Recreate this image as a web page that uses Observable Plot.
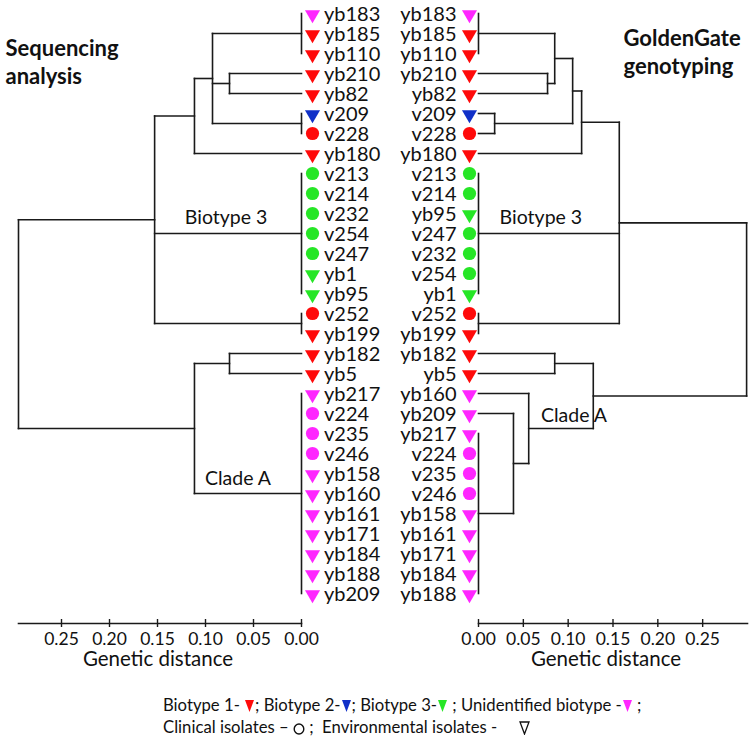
<!DOCTYPE html>
<html><head><meta charset="utf-8">
<script src="https://cdn.jsdelivr.net/npm/d3@7"></script>
<script src="https://cdn.jsdelivr.net/npm/@observablehq/plot@0.6"></script>
<style>
body{margin:0;background:#fff;font-family:Lato,sans-serif;}
#wrap{width:752px;}
#row{display:flex;}
#legend{padding:14px 0 0 163px;font-size:16.7px;color:#111;}
#legend div{height:22px;line-height:22px;white-space:nowrap;}
#legend svg{vertical-align:-2px;}
</style></head><body>
<div id="wrap"><div id="row"></div><div id="legend"></div></div>
<script>
// ---- data ----
const isolates = ["yb183","yb185","yb110","yb210","yb82","v209","v228","yb180","v213","v214","v232","v254","v247","yb1","yb95","v252","yb199","yb182","yb5","yb217","v224","v235","v246","yb158","yb160","yb161","yb171","yb184","yb188","yb209"];
const biotype  = ["U","1","1","1","1","2","1","1","3","3","3","3","3","3","3","1","1","1","1","U","U","U","U","U","U","U","U","U","U","U"];
const source   = ["E","E","E","E","E","E","C","E","C","C","C","C","C","E","E","C","E","E","E","E","C","C","C","E","E","E","E","E","E","E"];
const biotypeColors = {"1":"#ff0a0a","2":"#1030c8","3":"#26e626","U":"#ff26ff"};

// trees: [height, ...children]; a list of names = polytomy at distance 0
const leftTree = [0.2948,
  [0.153,
    [0.1115,
      [0.0927, ["yb183","yb185","yb110"], [0.075,"yb210","yb82"], ["v209","v228"]],
      "yb180"],
    ["v213","v214","v232","v254","v247","yb1","yb95"],
    ["v252","yb199"]],
  [0.1115,
    [0.075,"yb182","yb5"],
    ["yb217","v224","v235","v246","yb158","yb160","yb161","yb171","yb184","yb188","yb209"]]];

const rightTree = [0.299,
  [0.157,
    [0.115,
      [0.105,
        [0.085, ["yb183","yb185","yb110"], [0.077,"yb210","yb82"]],
        [0.018,"v209","v228"]],
      "yb180"],
    ["v213","v214","yb95","v247","v232","v254","yb1"],
    ["v252","yb199"]],
  [0.128,
    [0.085,"yb182","yb5"],
    [0.056,"yb160",[0.039,"yb209",["yb217","v224","v235","v246","yb158","yb161","yb171","yb184","yb188"]]]]];

const cladeNames = ["Biotype 3","Clade A"];
const leftCladeGroups = ["v213","yb217"];
const rightCladeGroups = ["v213","yb160"];
const distTicks = [0,0.05,0.10,0.15,0.20,0.25];
const titles = ["Sequencing\nanalysis","GoldenGate\ngenotyping"];
const axisTitle = "Genetic distance";
const legendBiotypes = [["Biotype 1- ","1","; "],["Biotype 2-","2","; "],["Biotype 3-","3"," ; "],["Unidentified biotype -","U"," ;"]];

// ---- layout ----
function layout(tree){
  const segs=[], leaves=[];
  let row=0;
  function walk(n){
    if (typeof n === "string"){ leaves.push({name:n,row}); return {x:0,y:row++,first:n}; }
    if (typeof n[0] === "string"){
      const y0=row; n.forEach(s=>leaves.push({name:s,row:row++})); const y1=row-1;
      segs.push({x1:0,x2:0,y1:y0,y2:y1});
      return {x:0,y:(y0+y1)/2,first:n[0]};
    }
    const h=n[0]; const kids=n.slice(1).map(walk);
    kids.forEach(k=>segs.push({x1:k.x,x2:h,y1:k.y,y2:k.y,first:k.first,h:true}));
    const ys=kids.map(k=>k.y); const lo=Math.min(...ys), hi=Math.max(...ys);
    segs.push({x1:h,x2:h,y1:lo,y2:hi});
    return {x:h,y:(lo+hi)/2,first:kids[0].first};
  }
  walk(tree);
  leaves.forEach(l=>{const i=isolates.indexOf(l.name); l.bio=biotype[i]; l.src=source[i];});
  return {segs,leaves};
}

function tree(treeData, side){
  const {segs,leaves} = layout(treeData);
  const left = side==="left";
  const groups = left ? leftCladeGroups : rightCladeGroups;
  const labels = cladeNames.map((t,i)=>{
    const s = segs.filter(s=>s.h && s.first===groups[i]).pop();
    return {text:t, x:(s.x1+s.x2)/2, y:s.y1};
  });
  const labelDx = left ? [-2,-10] : [-8,13];
  const labelDy = left ? [-16,-15] : [-16,-13];
  const tri = leaves.filter(d=>d.src==="E"), circ = leaves.filter(d=>d.src==="C");
  const sym = left ? 11 : -9;
  return Plot.plot({
    width:376, height:680,
    marginTop:13, marginBottom:57,
    marginLeft: left?18:102, marginRight: left?75:5,
    x:{domain: left?[0.2948,0]:[0,0.3]},
    y:{domain:[30.5,0], axis:null},
    style:{fontFamily:"Lato", background:"transparent", overflow:"visible", color:"#111"},
    marks:[
      Plot.link(segs,{x1:"x1",x2:"x2",y1:"y1",y2:"y2",stroke:"#1a1a1a",strokeWidth:1.6,strokeLinecap:"square"}),
      Plot.dot(tri,{x:()=>0,y:"row",dx:sym,dy:1,symbol:"triangle",r:5.6,rotate:180,fill:d=>biotypeColors[d.bio],stroke:null}),
      Plot.dot(circ,{x:()=>0,y:"row",dx:sym,symbol:"circle",r:6.6,fill:d=>biotypeColors[d.bio],stroke:null}),
      Plot.text(leaves,{x:()=>0,y:"row",text:"name",dx:left?22.5:-22,dy:1.5,textAnchor:left?"start":"end",fontSize:20,fill:"#111"}),
      ...labels.map((l,i)=>Plot.text([l],{x:"x",y:"y",text:"text",dx:labelDx[i],dy:labelDy[i],fontSize:19.5,fill:"#111"})),
      Plot.frame({anchor:"bottom",stroke:"#1a1a1a",strokeWidth:1.6}),
      Plot.ruleX(distTicks,{x:d=>d,y1:30.3,y2:30.7,stroke:"#1a1a1a",strokeWidth:1.4}),
      Plot.axisX(distTicks,{anchor:"bottom",tickSize:0,tickPadding:9,tickFormat:d=>d.toFixed(2),fontSize:17.5,label:null,fill:"#111"}),
      Plot.text([axisTitle],{frameAnchor:"bottom",dy:42,dx:left?-2:-7,fontSize:20.5,fill:"#111"}),
      Plot.text([left?titles[0]:titles[1]],{frameAnchor:"top-left",textAnchor:"start",lineAnchor:"top",
        dx:left?-13:145,dy:left?23:13,fontSize:22,fontWeight:"bold",lineHeight:1.25,fill:"#111"})
    ]
  });
}

const row = document.getElementById("row");
row.appendChild(tree(leftTree,"left"));
row.appendChild(tree(rightTree,"right"));

// ---- legend ----
const triSvg = (fill, stroke) => `<svg width="11" height="14" viewBox="0 0 11 14"><path d="M1,1 L10,1 L5.5,13 Z" fill="${fill}" stroke="${stroke||"none"}" stroke-width="1.3"/></svg>`;
const circSvg = `<svg width="12" height="14" viewBox="0 0 12 14"><ellipse cx="6" cy="8" rx="4.8" ry="5" fill="none" stroke="#111" stroke-width="1.4"/></svg>`;
const lg = document.getElementById("legend");
const l1 = legendBiotypes.map(([a,c,b])=>`${a}${triSvg(biotypeColors[c])}${b}`).join("");
const l2 = `Clinical isolates – ${circSvg} ;&nbsp; Environmental isolates - &nbsp;&nbsp;&nbsp;&nbsp;${triSvg("none","#111")}`;
lg.innerHTML = `<div>${l1}</div><div>${l2}</div>`;
</script>
</body></html>
